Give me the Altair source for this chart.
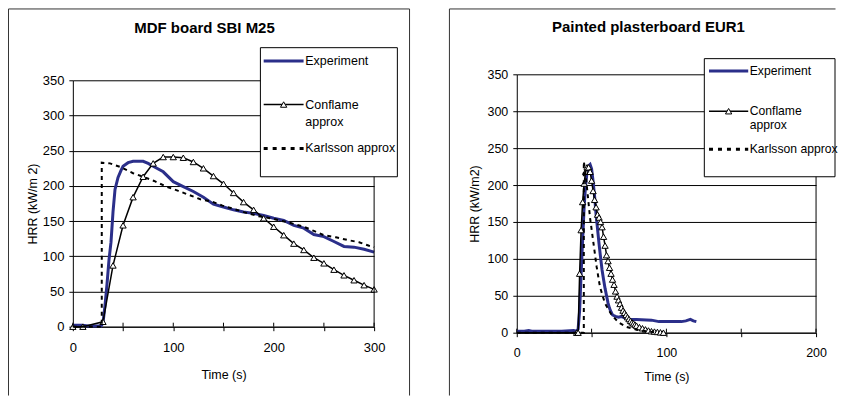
import altair as alt
import pandas as pd

# ---------------- data: MDF board SBI M25 ----------------
mdf_exp_t = [0, 5, 10, 15, 20, 25, 28, 30, 32, 34, 36, 38, 40, 42, 45, 48, 50, 55, 60, 65, 70, 75, 80,
             90, 100, 110, 120, 130, 140, 150, 160, 170, 180, 190, 200, 210, 220, 230, 240, 250, 260,
             270, 280, 290, 300]
mdf_exp_v = [2, 2, 2, 1, 1, 1, 1, 5, 30, 60, 95, 120, 163, 195, 212, 222, 228, 233, 235, 235, 235, 232, 228,
             220, 206, 199, 192, 184, 174, 170, 166, 163, 161, 158, 154, 151, 144, 140, 131, 128, 121,
             114, 113, 110, 106]
mdf_conf_t = [0, 10, 30, 40, 50, 60, 70, 80, 90, 100, 110, 120, 130, 140, 150, 160, 170, 180, 190, 200,
              210, 220, 230, 240, 250, 260, 270, 280, 290, 300]
mdf_conf_v = [0, 0, 7, 87, 144, 184, 213, 232, 241, 241, 240, 234, 225, 214, 203, 190, 177, 166, 154, 142,
              130, 118, 109, 98, 90, 81, 73, 66, 59, 53]
mdf_karl_t = [0, 28.8, 28.8, 37, 47, 60, 70, 81, 93, 105, 116, 127, 138, 149, 161, 172, 185, 200, 215,
              230, 240, 250, 262, 274, 285, 295, 300]
mdf_karl_v = [0, 0, 233, 232, 227, 218, 213, 207, 199, 193, 187, 181, 178, 172, 167, 162, 157, 153, 148,
              142, 136, 130, 127, 123, 120, 115, 113]

# ---------------- data: Painted plasterboard EUR1 ----------------
pp_exp_t = [0, 5, 8, 10, 20, 30, 38, 40, 41, 42, 43, 44, 45, 46, 47, 48, 49, 50, 51, 52, 53, 54, 55, 56,
            57, 58, 59, 60, 61, 62, 63, 64, 66, 68, 70, 72, 75, 80, 90, 95, 100, 110, 113, 116, 118, 120]
pp_exp_v = [2, 2, 3, 2, 2, 2, 3, 2, 5, 30, 80, 125, 170, 200, 218, 226, 228, 222, 205, 185, 160, 140, 120,
            102, 85, 72, 60, 50, 40, 33, 28, 24, 22, 21, 22, 20, 18, 18, 17, 15, 15, 15, 16, 18, 16, 15]
pp_conf_t = [0, 40, 41, 42, 43, 44, 45, 46, 47, 48, 49, 50, 51, 52, 53, 54, 55, 56, 57, 58, 59, 60, 61,
             62, 63, 64, 65, 66, 67, 68, 69, 70, 71, 72, 73, 74, 75, 76, 77, 78, 79, 80, 82, 84, 86, 88,
             90, 92, 94, 96, 98]
pp_conf_v = [0, 0, 0, 80, 139, 177, 202, 218, 224, 224, 218, 206, 192, 180, 170, 160, 156, 150, 143, 130,
             118, 105, 97, 88, 80, 72, 65, 56, 49, 44, 39, 34, 30, 27, 24, 21, 18.5, 16, 14, 12.5, 11,
             9.5, 7.5, 6, 4.5, 3, 2, 1.5, 1, 0.5, 0]
pp_karl_t = [0, 44.8, 44.8, 46, 47, 48, 49, 51, 53.4, 55.6, 58.9, 63.4, 68, 73, 80, 88, 95]
pp_karl_v = [0, 0, 232, 215, 195, 175, 155, 125, 89, 62, 40, 24, 14, 8, 4, 1.5, 0]

# ---------------- text ----------------
panel_titles = ["MDF board SBI M25", "Painted plasterboard EUR1"]
y_titles = ["HRR (kW/m 2)", "HRR (kW/m2)"]
x_title = "Time (s)"
legend_labels = ["Experiment", "Conflame", "approx", "Karlsson approx"]
y_ticks = [0, 50, 100, 150, 200, 250, 300, 350]
mdf_x_ticks = [0, 50, 100, 150, 200, 250, 300]
pp_x_ticks = [0, 50, 100, 150, 200]

FONT = "Liberation Sans, Arial, sans-serif"
BLUE = "#2B2F8A"
one = pd.DataFrame({"k": [0]})


def series(t, v):
    return pd.DataFrame({"t": t, "v": v, "i": list(range(len(t)))})


def panel(title, ytitle, exp, conf, karl, xmax, xticks, W, H, g, conf_min_t):
    fs, lfs, afs = g["fs"], g["lfs"], g["afs"]
    top = g["ytop"]
    xs = alt.Scale(domain=[0, xmax], nice=False, zero=True)
    ys = alt.Scale(domain=[0, 350], nice=False, range=[H, top])
    xaxis = alt.Axis(values=xticks, labelExpr="datum.value % 100 == 0 ? datum.label : ''",
                     tickSize=4, tickColor="black", domainColor="black", grid=False,
                     labelFont=FONT, labelFontSize=fs, labelColor="black", labelPadding=g["lpad"],
                     labelFlush=False, labelOverlap=False,
                     title=x_title, titleFont=FONT, titleFontSize=afs, titleFontWeight="normal",
                     titleColor="black", titleY=g["xty"], titleBaseline="middle")
    yaxis = alt.Axis(values=y_ticks, grid=True, gridColor="black", gridOpacity=1, gridWidth=1,
                     tickSize=4, tickColor="black", domainColor="black",
                     labelFont=FONT, labelFontSize=fs, labelColor="black", labelPadding=5,
                     title=ytitle, titleFont=FONT, titleFontSize=afs, titleFontWeight="normal",
                     titleColor="black", titleX=g["ytx"], titleBaseline="middle")
    X = alt.X("t:Q", scale=xs, axis=xaxis)
    Y = alt.Y("v:Q", scale=ys, axis=yaxis)

    exp_l = alt.Chart(series(*exp)).mark_line(color=BLUE, strokeWidth=3).encode(
        x=X, y=Y, order="i:Q")
    conf_df = series(*conf)
    conf_l = alt.Chart(conf_df).mark_line(color="black", strokeWidth=1.5).encode(
        x=X, y=Y, order="i:Q")
    conf_p = alt.Chart(conf_df).transform_filter(alt.datum.t >= conf_min_t).mark_point(
        shape="triangle-up", filled=True, fill="white", stroke="black", strokeWidth=1,
        size=40, opacity=1).encode(x=X, y=Y)
    karl_l = alt.Chart(series(*karl)).mark_line(color="black", strokeWidth=2,
                                                strokeDash=[4, 4]).encode(x=X, y=Y, order="i:Q")
    tick_df = pd.DataFrame({"t": xticks})
    ticks_in = alt.Chart(tick_df).mark_rule(color="black").encode(
        x=alt.X("t:Q", scale=xs), y=alt.value(H - 4), y2=alt.value(H))
    right_edge = alt.Chart(one).mark_rule(color="black").encode(
        x=alt.value(W), y=alt.value(top), y2=alt.value(H))

    # legend
    bx = g["box"]
    box = alt.Chart(one).mark_rect(fill="white", stroke="black", strokeWidth=1).encode(
        x=alt.value(bx[0]), x2=alt.value(bx[1]), y=alt.value(bx[2]), y2=alt.value(bx[3]))
    lx1, lx2, tx = g["lx1"], g["lx2"], g["tx"]
    leg_exp = alt.Chart(one).mark_rule(color=BLUE, strokeWidth=3).encode(
        x=alt.value(lx1), x2=alt.value(lx2), y=alt.value(g["ye"]))
    leg_conf = alt.Chart(one).mark_rule(color="black", strokeWidth=1.5).encode(
        x=alt.value(lx1), x2=alt.value(lx2), y=alt.value(g["yc"]))
    leg_tri = alt.Chart(one).mark_point(shape="triangle-up", filled=True, fill="white",
                                        stroke="black", strokeWidth=1, size=40, opacity=1).encode(
        x=alt.value((lx1 + lx2) / 2), y=alt.value(g["yc"]))
    leg_karl = alt.Chart(one).mark_rule(color="black", strokeWidth=3, strokeDash=[4, 5]).encode(
        x=alt.value(lx1), x2=alt.value(lx2), y=alt.value(g["yk"]))
    texts = []
    for lab, yy in zip(legend_labels, [g["ye"], g["yc"], g["ya"], g["yk"]]):
        texts.append(alt.Chart(one).mark_text(text=lab, font=FONT, fontSize=lfs, align="left",
                                              baseline="middle", color="black").encode(
            x=alt.value(tx), y=alt.value(yy)))
    ttl = alt.Chart(one).mark_text(text=title, font=FONT, fontSize=g["tfs"], fontWeight="bold",
                                   align="center", baseline="middle", color="black").encode(
        x=alt.value(g["ttx"]), y=alt.value(g["tty"]))

    # outer frame (its bottom edge lies below the visible area in the original)
    fl, fr, ft, fb = g["frame"]
    frame = [alt.Chart(one).mark_rule(color="#333333", strokeWidth=1).encode(
        x=alt.value(fl), x2=alt.value(fr), y=alt.value(ft)),
        alt.Chart(one).mark_rule(color="#333333", strokeWidth=1).encode(
        x=alt.value(fl), y=alt.value(ft), y2=alt.value(fb))]
    if g["right_side"]:
        frame.append(alt.Chart(one).mark_rule(color="#333333", strokeWidth=1).encode(
            x=alt.value(fr), y=alt.value(ft), y2=alt.value(fb)))

    layers = [exp_l, conf_l, conf_p, karl_l, ticks_in, right_edge, box, leg_exp, leg_conf,
              leg_tri, leg_karl] + texts + [ttl] + frame
    return alt.layer(*layers).properties(width=W, height=H)


geo_left = dict(box=(188, 325.3, -32.7, 96.7), lx1=191.3, lx2=231.3, tx=233,
                ye=-19.3, yc=24.3, ya=41.7, yk=68.3, ttx=132, tty=-52, tfs=15,
                frame=(-64.5, 337.5, -71.5, 316), right_side=True, lpad=11, xty=48, ytx=-40,
                fs=13, lfs=12.5, afs=12.5, ytop=0)
geo_right = dict(box=(188, 319, -21.7, 96.7), lx1=192.7, lx2=232, tx=233.5,
                 ye=-9.3, yc=31, ya=45, yk=69, ttx=132, tty=-53, tfs=15,
                 frame=(-67.5, 319.5, -71.5, 316), right_side=False, lpad=10, xty=44, ytx=-42,
                 fs=12.5, lfs=12.2, afs=12.5, ytop=-6)

left = panel(panel_titles[0], y_titles[0], (mdf_exp_t, mdf_exp_v), (mdf_conf_t, mdf_conf_v),
             (mdf_karl_t, mdf_karl_v), 300, mdf_x_ticks, 302, 247, geo_left, 0)
right = panel(panel_titles[1], y_titles[1], (pp_exp_t, pp_exp_v), (pp_conf_t, pp_conf_v),
              (pp_karl_t, pp_karl_v), 200, pp_x_ticks, 300, 253, geo_right, 40)

chart = alt.hconcat(left, right, spacing=39, padding=0, background="white").configure_view(
    stroke=None)

chart.save("out.html", embed_options={"renderer": "svg", "actions": False})
